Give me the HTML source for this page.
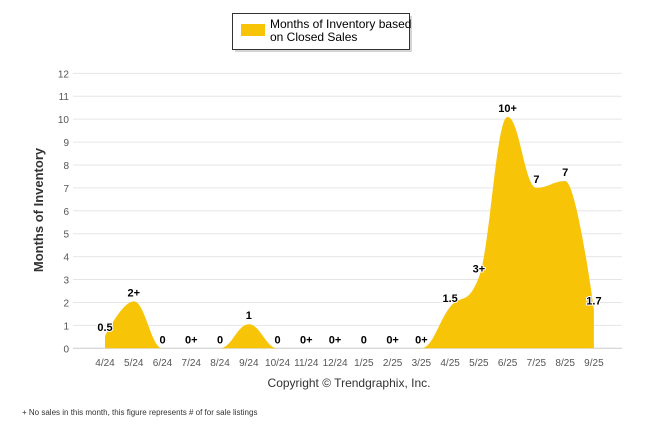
<!DOCTYPE html>
<html><head><meta charset="utf-8"><style>
body{margin:0;background:#fff;font-family:"Liberation Sans",sans-serif;}
svg{display:block}
</style></head><body>
<svg width="646" height="434" id="c">
<g>
<rect x="235" y="16" width="177" height="36" fill="#888" opacity="0.35"/>
<rect x="232.5" y="13.5" width="177" height="36" fill="#fff" stroke="#333" stroke-width="1"/>
<rect x="241" y="24" width="24" height="12" fill="#F7C407"/>
<text x="270" y="28" font-size="12" fill="#000">Months of Inventory based</text>
<text x="270" y="41" font-size="12" fill="#000">on Closed Sales</text>
</g>
<g id="grid"></g>
<g id="area"></g>
<g id="labels"></g>
<text transform="translate(43,210) rotate(-90)" text-anchor="middle" font-size="13" font-weight="bold" fill="#333">Months of Inventory</text>
<text x="349" y="387" text-anchor="middle" font-size="12" fill="#333">Copyright © Trendgraphix, Inc.</text>
<text x="22" y="415" font-size="8" fill="#333">+  No sales in this month, this figure represents # of for sale listings</text>
</svg>
<script>
const categories=["4/24","5/24","6/24","7/24","8/24","9/24","10/24","11/24","12/24","1/25","2/25","3/25","4/25","5/25","6/25","7/25","8/25","9/25"];
const values=[0.53,2.05,0,0,0,1.05,0,0,0,0,0,0,1.8,3.1,10.1,7.0,7.3,1.7];
const pointLabels=["0.5","2+","0","0+","0","1","0","0+","0+","0","0+","0+","1.5","3+","10+","7","7","1.7"];
const yTicks=[0,1,2,3,4,5,6,7,8,9,10,11,12];
const NS="http://www.w3.org/2000/svg";
const x0=105,step=28.76,yBase=348.3,unit=22.915;
const px=i=>x0+i*step, py=v=>yBase-v*unit;
function mk(t,a,p){const e=document.createElementNS(NS,t);for(const k in a)e.setAttribute(k,a[k]);p.appendChild(e);return e;}
const grid=document.getElementById('grid');
yTicks.forEach(t=>{
 const l=mk('line',{x1:73,x2:622,y1:py(t),y2:py(t),stroke:t===0?'#ccc':'#e6e6e6','stroke-width':1},grid);
 
 
 const tx=mk('text',{x:69,y:py(t)+4,'text-anchor':'end','font-size':10,fill:'#555'},grid);
 tx.textContent=t;
 
 
});
categories.forEach((c,i)=>{
 const tx=mk('text',{x:px(i),y:366,'text-anchor':'middle','font-size':10,fill:'#555'},grid);
 tx.textContent=c;
 
 
});
// Highcharts-like spline
const pts=values.map((v,i)=>[px(i),py(v)]);
let d='M'+pts[0][0]+','+yBase+' L'+pts[0][0]+','+pts[0][1];
const sm=1.5,den=2.5;
function ctrl(i){
 const p=pts[i],a=pts[i-1],b=pts[i+1];
 if(!a||!b)return [p,p];
 let lx=(sm*p[0]+a[0])/den,ly=(sm*p[1]+a[1])/den,rx=(sm*p[0]+b[0])/den,ry=(sm*p[1]+b[1])/den;
 let corr=0;if(rx!==lx)corr=((ry-ly)*(rx-p[0]))/(rx-lx)+p[1]-ry;
 ly+=corr;ry+=corr;
 if(ly>a[1]&&ly>p[1]){ly=Math.max(a[1],p[1]);ry=2*p[1]-ly;}else if(ly<a[1]&&ly<p[1]){ly=Math.min(a[1],p[1]);ry=2*p[1]-ly;}
 if(ry>b[1]&&ry>p[1]){ry=Math.max(b[1],p[1]);ly=2*p[1]-ry;}else if(ry<b[1]&&ry<p[1]){ry=Math.min(b[1],p[1]);ly=2*p[1]-ry;}
 return [[lx,ly],[rx,ry]];
}
for(let i=1;i<pts.length;i++){
 const c1=ctrl(i-1)[1],c2=ctrl(i)[0];
 d+=' C'+c1[0]+','+c1[1]+' '+c2[0]+','+c2[1]+' '+pts[i][0]+','+pts[i][1];
}
d+=' L'+pts[pts.length-1][0]+','+yBase+' Z';
const area=mk('path',{d:d,fill:'#F7C407'},document.getElementById('area'));


const lg=document.getElementById('labels');
pointLabels.forEach((s,i)=>{
 const t=mk('text',{x:px(i),y:py(values[i])-5,'text-anchor':'middle','font-size':11,'font-weight':'bold',fill:'#000',stroke:'#fff','stroke-width':2,'paint-order':'stroke'},lg);
 t.textContent=s;
 
 
});
</script>
</body></html>
